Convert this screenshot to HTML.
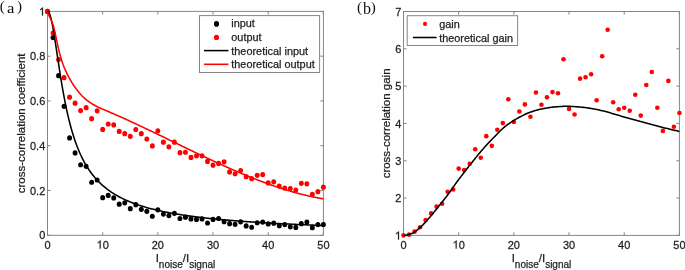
<!DOCTYPE html>
<html><head><meta charset="utf-8"><style>
html,body{margin:0;padding:0;background:#fff;width:685px;height:270px;overflow:hidden}
svg{display:block;will-change:transform}
text{font-family:"Liberation Sans",sans-serif;fill:#1e1e1e;stroke:#1e1e1e;stroke-width:0.25px}
.t{font-size:11px}
.one{fill:#1e1e1e;stroke:#1e1e1e;stroke-width:46.5px}
.l{font-size:11.5px}
.s{font-size:10px}
.g{font-size:10.88px}
.p{font-family:"Liberation Serif",serif;font-size:15.2px;fill:#111;stroke:none}
.pa2{font-family:"Liberation Serif",serif;font-size:14.5px;fill:#111;stroke:none}
.pb{font-family:"Liberation Serif",serif;font-size:16px;fill:#111;stroke:none}
</style></head><body>
<svg width="685" height="270" viewBox="0 0 685 270">
<rect x="47.5" y="11.4" width="275.90" height="223.90" fill="none" stroke="#858585" stroke-width="1"/>
<line x1="47.50" y1="235.3" x2="47.50" y2="232.20000000000002" stroke="#858585"/>
<line x1="47.50" y1="11.4" x2="47.50" y2="14.5" stroke="#858585"/>
<g transform="translate(47.50,248.60) scale(1,1.07)"><text x="-3.059" y="0" class="t">0</text></g>
<line x1="102.68" y1="235.3" x2="102.68" y2="232.20000000000002" stroke="#858585"/>
<line x1="102.68" y1="11.4" x2="102.68" y2="14.5" stroke="#858585"/>
<g transform="translate(102.68,248.60) scale(1,1.07)"><path transform="translate(-6.118,0) scale(0.005371,-0.005371)" d="M763 0H583V1120C540 1080 483 1040 413 1000C343 960 280 932 224 912V1080C325 1126 413 1182 488 1248C563 1314 616 1350 647 1409H763Z" class="one"/><text x="0.000" y="0" class="t">0</text></g>
<line x1="157.86" y1="235.3" x2="157.86" y2="232.20000000000002" stroke="#858585"/>
<line x1="157.86" y1="11.4" x2="157.86" y2="14.5" stroke="#858585"/>
<g transform="translate(157.86,248.60) scale(1,1.07)"><text x="-6.118" y="0" class="t">20</text></g>
<line x1="213.04" y1="235.3" x2="213.04" y2="232.20000000000002" stroke="#858585"/>
<line x1="213.04" y1="11.4" x2="213.04" y2="14.5" stroke="#858585"/>
<g transform="translate(213.04,248.60) scale(1,1.07)"><text x="-6.118" y="0" class="t">30</text></g>
<line x1="268.22" y1="235.3" x2="268.22" y2="232.20000000000002" stroke="#858585"/>
<line x1="268.22" y1="11.4" x2="268.22" y2="14.5" stroke="#858585"/>
<g transform="translate(268.22,248.60) scale(1,1.07)"><text x="-6.118" y="0" class="t">40</text></g>
<line x1="323.40" y1="235.3" x2="323.40" y2="232.20000000000002" stroke="#858585"/>
<line x1="323.40" y1="11.4" x2="323.40" y2="14.5" stroke="#858585"/>
<g transform="translate(323.40,248.60) scale(1,1.07)"><text x="-6.118" y="0" class="t">50</text></g>
<line x1="47.5" y1="235.30" x2="50.6" y2="235.30" stroke="#858585"/>
<line x1="323.4" y1="235.30" x2="320.29999999999995" y2="235.30" stroke="#858585"/>
<g transform="translate(45.25,239.40) scale(1,1.07)"><text x="-6.118" y="0" class="t">0</text></g>
<line x1="47.5" y1="190.52" x2="50.6" y2="190.52" stroke="#858585"/>
<line x1="323.4" y1="190.52" x2="320.29999999999995" y2="190.52" stroke="#858585"/>
<g transform="translate(45.25,194.62) scale(1,1.07)"><text x="-15.292" y="0" class="t">0.2</text></g>
<line x1="47.5" y1="145.74" x2="50.6" y2="145.74" stroke="#858585"/>
<line x1="323.4" y1="145.74" x2="320.29999999999995" y2="145.74" stroke="#858585"/>
<g transform="translate(45.25,149.84) scale(1,1.07)"><text x="-15.292" y="0" class="t">0.4</text></g>
<line x1="47.5" y1="100.96" x2="50.6" y2="100.96" stroke="#858585"/>
<line x1="323.4" y1="100.96" x2="320.29999999999995" y2="100.96" stroke="#858585"/>
<g transform="translate(45.25,105.06) scale(1,1.07)"><text x="-15.292" y="0" class="t">0.6</text></g>
<line x1="47.5" y1="56.18" x2="50.6" y2="56.18" stroke="#858585"/>
<line x1="323.4" y1="56.18" x2="320.29999999999995" y2="56.18" stroke="#858585"/>
<g transform="translate(45.25,60.28) scale(1,1.07)"><text x="-15.292" y="0" class="t">0.8</text></g>
<line x1="47.5" y1="11.40" x2="50.6" y2="11.40" stroke="#858585"/>
<line x1="323.4" y1="11.40" x2="320.29999999999995" y2="11.40" stroke="#858585"/>
<g transform="translate(45.25,15.50) scale(1,1.07)"><path transform="translate(-6.368,0) scale(0.005371,-0.005371)" d="M763 0H583V1120C540 1080 483 1040 413 1000C343 960 280 932 224 912V1080C325 1126 413 1182 488 1248C563 1314 616 1350 647 1409H763Z" class="one"/></g>
<ellipse cx="47.50" cy="11.40" rx="2.45" ry="2.6" fill="#000"/>
<ellipse cx="53.02" cy="37.60" rx="2.45" ry="2.6" fill="#000"/>
<ellipse cx="58.54" cy="75.66" rx="2.45" ry="2.6" fill="#000"/>
<ellipse cx="64.05" cy="106.33" rx="2.45" ry="2.6" fill="#000"/>
<ellipse cx="69.57" cy="137.90" rx="2.45" ry="2.6" fill="#000"/>
<ellipse cx="75.09" cy="152.90" rx="2.45" ry="2.6" fill="#000"/>
<ellipse cx="80.61" cy="164.77" rx="2.45" ry="2.6" fill="#000"/>
<ellipse cx="86.13" cy="166.34" rx="2.45" ry="2.6" fill="#000"/>
<ellipse cx="91.64" cy="182.24" rx="2.45" ry="2.6" fill="#000"/>
<ellipse cx="97.16" cy="180.00" rx="2.45" ry="2.6" fill="#000"/>
<ellipse cx="102.68" cy="197.68" rx="2.45" ry="2.6" fill="#000"/>
<ellipse cx="108.20" cy="195.45" rx="2.45" ry="2.6" fill="#000"/>
<ellipse cx="113.72" cy="197.91" rx="2.45" ry="2.6" fill="#000"/>
<ellipse cx="119.23" cy="204.18" rx="2.45" ry="2.6" fill="#000"/>
<ellipse cx="124.75" cy="202.83" rx="2.45" ry="2.6" fill="#000"/>
<ellipse cx="130.27" cy="208.66" rx="2.45" ry="2.6" fill="#000"/>
<ellipse cx="135.79" cy="204.63" rx="2.45" ry="2.6" fill="#000"/>
<ellipse cx="141.31" cy="209.33" rx="2.45" ry="2.6" fill="#000"/>
<ellipse cx="146.82" cy="211.34" rx="2.45" ry="2.6" fill="#000"/>
<ellipse cx="152.34" cy="216.27" rx="2.45" ry="2.6" fill="#000"/>
<ellipse cx="157.86" cy="209.78" rx="2.45" ry="2.6" fill="#000"/>
<ellipse cx="163.38" cy="214.03" rx="2.45" ry="2.6" fill="#000"/>
<ellipse cx="168.90" cy="215.60" rx="2.45" ry="2.6" fill="#000"/>
<ellipse cx="174.41" cy="213.36" rx="2.45" ry="2.6" fill="#000"/>
<ellipse cx="179.93" cy="218.51" rx="2.45" ry="2.6" fill="#000"/>
<ellipse cx="185.45" cy="217.16" rx="2.45" ry="2.6" fill="#000"/>
<ellipse cx="190.97" cy="218.96" rx="2.45" ry="2.6" fill="#000"/>
<ellipse cx="196.49" cy="219.40" rx="2.45" ry="2.6" fill="#000"/>
<ellipse cx="202.00" cy="218.96" rx="2.45" ry="2.6" fill="#000"/>
<ellipse cx="207.52" cy="222.99" rx="2.45" ry="2.6" fill="#000"/>
<ellipse cx="213.04" cy="219.40" rx="2.45" ry="2.6" fill="#000"/>
<ellipse cx="218.56" cy="218.51" rx="2.45" ry="2.6" fill="#000"/>
<ellipse cx="224.08" cy="221.64" rx="2.45" ry="2.6" fill="#000"/>
<ellipse cx="229.59" cy="223.66" rx="2.45" ry="2.6" fill="#000"/>
<ellipse cx="235.11" cy="224.33" rx="2.45" ry="2.6" fill="#000"/>
<ellipse cx="240.63" cy="221.87" rx="2.45" ry="2.6" fill="#000"/>
<ellipse cx="246.15" cy="225.90" rx="2.45" ry="2.6" fill="#000"/>
<ellipse cx="251.67" cy="227.24" rx="2.45" ry="2.6" fill="#000"/>
<ellipse cx="257.18" cy="222.76" rx="2.45" ry="2.6" fill="#000"/>
<ellipse cx="262.70" cy="222.09" rx="2.45" ry="2.6" fill="#000"/>
<ellipse cx="268.22" cy="223.88" rx="2.45" ry="2.6" fill="#000"/>
<ellipse cx="273.74" cy="223.21" rx="2.45" ry="2.6" fill="#000"/>
<ellipse cx="279.26" cy="225.67" rx="2.45" ry="2.6" fill="#000"/>
<ellipse cx="284.77" cy="224.55" rx="2.45" ry="2.6" fill="#000"/>
<ellipse cx="290.29" cy="226.79" rx="2.45" ry="2.6" fill="#000"/>
<ellipse cx="295.81" cy="227.46" rx="2.45" ry="2.6" fill="#000"/>
<ellipse cx="301.33" cy="223.66" rx="2.45" ry="2.6" fill="#000"/>
<ellipse cx="306.85" cy="222.09" rx="2.45" ry="2.6" fill="#000"/>
<ellipse cx="312.36" cy="227.69" rx="2.45" ry="2.6" fill="#000"/>
<ellipse cx="317.88" cy="224.55" rx="2.45" ry="2.6" fill="#000"/>
<ellipse cx="323.40" cy="224.55" rx="2.45" ry="2.6" fill="#000"/>
<ellipse cx="47.50" cy="11.40" rx="2.45" ry="2.6" fill="#ff0000"/>
<ellipse cx="53.02" cy="33.12" rx="2.45" ry="2.6" fill="#ff0000"/>
<ellipse cx="58.54" cy="59.54" rx="2.45" ry="2.6" fill="#ff0000"/>
<ellipse cx="64.05" cy="77.67" rx="2.45" ry="2.6" fill="#ff0000"/>
<ellipse cx="69.57" cy="97.15" rx="2.45" ry="2.6" fill="#ff0000"/>
<ellipse cx="75.09" cy="103.20" rx="2.45" ry="2.6" fill="#ff0000"/>
<ellipse cx="80.61" cy="110.59" rx="2.45" ry="2.6" fill="#ff0000"/>
<ellipse cx="86.13" cy="107.68" rx="2.45" ry="2.6" fill="#ff0000"/>
<ellipse cx="91.64" cy="118.65" rx="2.45" ry="2.6" fill="#ff0000"/>
<ellipse cx="97.16" cy="110.81" rx="2.45" ry="2.6" fill="#ff0000"/>
<ellipse cx="102.68" cy="129.40" rx="2.45" ry="2.6" fill="#ff0000"/>
<ellipse cx="108.20" cy="124.02" rx="2.45" ry="2.6" fill="#ff0000"/>
<ellipse cx="113.72" cy="124.92" rx="2.45" ry="2.6" fill="#ff0000"/>
<ellipse cx="119.23" cy="131.41" rx="2.45" ry="2.6" fill="#ff0000"/>
<ellipse cx="124.75" cy="133.65" rx="2.45" ry="2.6" fill="#ff0000"/>
<ellipse cx="130.27" cy="136.34" rx="2.45" ry="2.6" fill="#ff0000"/>
<ellipse cx="135.79" cy="129.62" rx="2.45" ry="2.6" fill="#ff0000"/>
<ellipse cx="141.31" cy="133.65" rx="2.45" ry="2.6" fill="#ff0000"/>
<ellipse cx="146.82" cy="139.02" rx="2.45" ry="2.6" fill="#ff0000"/>
<ellipse cx="152.34" cy="145.96" rx="2.45" ry="2.6" fill="#ff0000"/>
<ellipse cx="157.86" cy="130.74" rx="2.45" ry="2.6" fill="#ff0000"/>
<ellipse cx="163.38" cy="142.16" rx="2.45" ry="2.6" fill="#ff0000"/>
<ellipse cx="168.90" cy="146.86" rx="2.45" ry="2.6" fill="#ff0000"/>
<ellipse cx="174.41" cy="142.16" rx="2.45" ry="2.6" fill="#ff0000"/>
<ellipse cx="179.93" cy="152.68" rx="2.45" ry="2.6" fill="#ff0000"/>
<ellipse cx="185.45" cy="152.23" rx="2.45" ry="2.6" fill="#ff0000"/>
<ellipse cx="190.97" cy="157.38" rx="2.45" ry="2.6" fill="#ff0000"/>
<ellipse cx="196.49" cy="155.82" rx="2.45" ry="2.6" fill="#ff0000"/>
<ellipse cx="202.00" cy="155.82" rx="2.45" ry="2.6" fill="#ff0000"/>
<ellipse cx="207.52" cy="161.41" rx="2.45" ry="2.6" fill="#ff0000"/>
<ellipse cx="213.04" cy="165.22" rx="2.45" ry="2.6" fill="#ff0000"/>
<ellipse cx="218.56" cy="163.43" rx="2.45" ry="2.6" fill="#ff0000"/>
<ellipse cx="224.08" cy="161.86" rx="2.45" ry="2.6" fill="#ff0000"/>
<ellipse cx="229.59" cy="171.94" rx="2.45" ry="2.6" fill="#ff0000"/>
<ellipse cx="235.11" cy="173.73" rx="2.45" ry="2.6" fill="#ff0000"/>
<ellipse cx="240.63" cy="170.59" rx="2.45" ry="2.6" fill="#ff0000"/>
<ellipse cx="246.15" cy="176.64" rx="2.45" ry="2.6" fill="#ff0000"/>
<ellipse cx="251.67" cy="178.65" rx="2.45" ry="2.6" fill="#ff0000"/>
<ellipse cx="257.18" cy="175.29" rx="2.45" ry="2.6" fill="#ff0000"/>
<ellipse cx="262.70" cy="174.62" rx="2.45" ry="2.6" fill="#ff0000"/>
<ellipse cx="268.22" cy="182.91" rx="2.45" ry="2.6" fill="#ff0000"/>
<ellipse cx="273.74" cy="181.79" rx="2.45" ry="2.6" fill="#ff0000"/>
<ellipse cx="279.26" cy="186.04" rx="2.45" ry="2.6" fill="#ff0000"/>
<ellipse cx="284.77" cy="188.06" rx="2.45" ry="2.6" fill="#ff0000"/>
<ellipse cx="290.29" cy="188.50" rx="2.45" ry="2.6" fill="#ff0000"/>
<ellipse cx="295.81" cy="190.07" rx="2.45" ry="2.6" fill="#ff0000"/>
<ellipse cx="301.33" cy="183.36" rx="2.45" ry="2.6" fill="#ff0000"/>
<ellipse cx="306.85" cy="183.80" rx="2.45" ry="2.6" fill="#ff0000"/>
<ellipse cx="312.36" cy="194.33" rx="2.45" ry="2.6" fill="#ff0000"/>
<ellipse cx="317.88" cy="191.64" rx="2.45" ry="2.6" fill="#ff0000"/>
<ellipse cx="323.40" cy="187.16" rx="2.45" ry="2.6" fill="#ff0000"/>
<polyline points="47.50,11.40 48.42,11.87 49.35,13.33 50.27,15.79 51.19,19.16 52.11,23.35 53.04,28.21 53.96,33.59 54.88,39.37 55.80,45.39 56.73,51.55 57.65,57.73 58.57,63.87 59.50,69.90 60.42,75.78 61.34,81.46 62.26,86.93 63.19,92.17 64.11,97.18 65.03,101.96 65.95,106.51 66.88,110.83 67.80,114.94 68.72,118.84 69.65,122.54 70.57,126.06 71.49,129.39 72.41,132.56 73.34,135.57 74.26,138.44 75.18,141.16 76.11,143.75 77.03,146.22 77.95,148.57 78.87,150.81 79.80,152.95 80.72,154.99 81.64,156.95 82.56,158.81 83.49,160.60 84.41,162.31 85.33,163.95 86.26,165.52 87.18,167.03 88.10,168.48 89.02,169.87 89.95,171.21 90.87,172.50 91.79,173.74 92.71,174.94 93.64,176.09 94.56,177.20 95.48,178.27 96.41,179.30 97.33,180.30 98.25,181.27 99.17,182.20 100.10,183.11 101.02,183.98 101.94,184.83 102.86,185.65 103.79,186.44 104.71,187.21 105.63,187.96 106.56,188.69 107.48,189.39 108.40,190.08 109.32,190.74 110.25,191.39 111.17,192.02 112.09,192.63 113.01,193.22 113.94,193.80 114.86,194.36 115.78,194.91 116.71,195.45 117.63,195.97 118.55,196.48 119.47,196.97 120.40,197.45 121.32,197.93 122.24,198.39 123.16,198.84 124.09,199.28 125.01,199.70 125.93,200.12 126.86,200.53 127.78,200.93 128.70,201.32 129.62,201.71 130.55,202.08 131.47,202.45 132.39,202.80 133.32,203.16 134.24,203.50 135.16,203.84 136.08,204.17 137.01,204.49 137.93,204.80 138.85,205.11 139.77,205.42 140.70,205.72 141.62,206.01 142.54,206.30 143.47,206.58 144.39,206.85 145.31,207.12 146.23,207.39 147.16,207.65 148.08,207.91 149.00,208.16 149.92,208.41 150.85,208.65 151.77,208.89 152.69,209.12 153.62,209.35 154.54,209.58 155.46,209.80 156.38,210.02 157.31,210.23 158.23,210.45 159.15,210.65 160.07,210.86 161.00,211.06 161.92,211.26 162.84,211.45 163.77,211.64 164.69,211.83 165.61,212.02 166.53,212.20 167.46,212.38 168.38,212.56 169.30,212.73 170.22,212.91 171.15,213.08 172.07,213.24 172.99,213.41 173.92,213.57 174.84,213.73 175.76,213.89 176.68,214.04 177.61,214.20 178.53,214.35 179.45,214.50 180.37,214.64 181.30,214.79 182.22,214.93 183.14,215.07 184.07,215.21 184.99,215.35 185.91,215.48 186.83,215.62 187.76,215.75 188.68,215.88 189.60,216.01 190.53,216.13 191.45,216.26 192.37,216.38 193.29,216.50 194.22,216.62 195.14,216.74 196.06,216.86 196.98,216.98 197.91,217.09 198.83,217.20 199.75,217.32 200.68,217.43 201.60,217.53 202.52,217.64 203.44,217.75 204.37,217.85 205.29,217.96 206.21,218.06 207.13,218.16 208.06,218.26 208.98,218.36 209.90,218.46 210.83,218.56 211.75,218.65 212.67,218.75 213.59,218.84 214.52,218.93 215.44,219.03 216.36,219.12 217.28,219.21 218.21,219.30 219.13,219.38 220.05,219.47 220.98,219.56 221.90,219.64 222.82,219.72 223.74,219.81 224.67,219.89 225.59,219.97 226.51,220.05 227.43,220.13 228.36,220.21 229.28,220.29 230.20,220.37 231.13,220.44 232.05,220.52 232.97,220.59 233.89,220.67 234.82,220.74 235.74,220.81 236.66,220.89 237.58,220.96 238.51,221.03 239.43,221.10 240.35,221.17 241.28,221.24 242.20,221.31 243.12,221.37 244.04,221.44 244.97,221.51 245.89,221.57 246.81,221.64 247.74,221.70 248.66,221.76 249.58,221.83 250.50,221.89 251.43,221.95 252.35,222.01 253.27,222.07 254.19,222.13 255.12,222.19 256.04,222.25 256.96,222.31 257.89,222.37 258.81,222.43 259.73,222.49 260.65,222.54 261.58,222.60 262.50,222.65 263.42,222.71 264.34,222.76 265.27,222.82 266.19,222.87 267.11,222.93 268.04,222.98 268.96,223.03 269.88,223.08 270.80,223.13 271.73,223.19 272.65,223.24 273.57,223.29 274.49,223.34 275.42,223.39 276.34,223.43 277.26,223.48 278.19,223.53 279.11,223.58 280.03,223.63 280.95,223.67 281.88,223.72 282.80,223.77 283.72,223.81 284.64,223.86 285.57,223.90 286.49,223.95 287.41,223.99 288.34,224.04 289.26,224.08 290.18,224.13 291.10,224.17 292.03,224.21 292.95,224.26 293.87,224.30 294.79,224.34 295.72,224.38 296.64,224.42 297.56,224.46 298.49,224.50 299.41,224.54 300.33,224.58 301.25,224.62 302.18,224.66 303.10,224.70 304.02,224.74 304.95,224.78 305.87,224.82 306.79,224.86 307.71,224.90 308.64,224.93 309.56,224.97 310.48,225.01 311.40,225.04 312.33,225.08 313.25,225.12 314.17,225.15 315.10,225.19 316.02,225.22 316.94,225.26 317.86,225.30 318.79,225.33 319.71,225.36 320.63,225.40 321.55,225.43 322.48,225.47 323.40,225.50" fill="none" stroke="#000" stroke-width="1.55"/>
<polyline points="47.50,11.64 48.42,14.27 49.35,16.40 50.27,18.28 51.19,20.15 52.11,22.23 53.04,24.76 53.96,27.98 54.88,31.85 55.80,36.15 56.73,40.61 57.65,45.01 58.57,49.10 59.50,52.84 60.42,56.25 61.34,59.36 62.26,62.20 63.19,64.79 64.11,67.18 65.03,69.39 65.95,71.45 66.88,73.38 67.80,75.22 68.72,76.99 69.65,78.70 70.57,80.33 71.49,81.91 72.41,83.41 73.34,84.86 74.26,86.25 75.18,87.58 76.11,88.86 77.03,90.08 77.95,91.25 78.87,92.37 79.80,93.44 80.72,94.46 81.64,95.44 82.56,96.37 83.49,97.26 84.41,98.11 85.33,98.92 86.26,99.70 87.18,100.44 88.10,101.14 89.02,101.81 89.95,102.46 90.87,103.07 91.79,103.66 92.71,104.22 93.64,104.76 94.56,105.28 95.48,105.78 96.41,106.25 97.33,106.72 98.25,107.16 99.17,107.60 100.10,108.02 101.02,108.43 101.94,108.84 102.86,109.24 103.79,109.63 104.71,110.02 105.63,110.41 106.56,110.80 107.48,111.19 108.40,111.58 109.32,111.98 110.25,112.37 111.17,112.77 112.09,113.17 113.01,113.57 113.94,113.97 114.86,114.38 115.78,114.78 116.71,115.19 117.63,115.60 118.55,116.00 119.47,116.41 120.40,116.83 121.32,117.24 122.24,117.65 123.16,118.07 124.09,118.48 125.01,118.90 125.93,119.32 126.86,119.74 127.78,120.16 128.70,120.58 129.62,121.00 130.55,121.43 131.47,121.85 132.39,122.28 133.32,122.71 134.24,123.14 135.16,123.56 136.08,123.99 137.01,124.42 137.93,124.86 138.85,125.29 139.77,125.72 140.70,126.16 141.62,126.59 142.54,127.03 143.47,127.46 144.39,127.90 145.31,128.34 146.23,128.78 147.16,129.22 148.08,129.65 149.00,130.09 149.92,130.54 150.85,130.98 151.77,131.42 152.69,131.86 153.62,132.30 154.54,132.75 155.46,133.19 156.38,133.64 157.31,134.08 158.23,134.53 159.15,134.97 160.07,135.42 161.00,135.86 161.92,136.31 162.84,136.76 163.77,137.20 164.69,137.65 165.61,138.10 166.53,138.54 167.46,138.99 168.38,139.44 169.30,139.89 170.22,140.34 171.15,140.78 172.07,141.23 172.99,141.68 173.92,142.13 174.84,142.58 175.76,143.03 176.68,143.47 177.61,143.92 178.53,144.37 179.45,144.82 180.37,145.26 181.30,145.71 182.22,146.16 183.14,146.61 184.07,147.05 184.99,147.50 185.91,147.95 186.83,148.39 187.76,148.84 188.68,149.28 189.60,149.73 190.53,150.17 191.45,150.62 192.37,151.06 193.29,151.50 194.22,151.95 195.14,152.39 196.06,152.83 196.98,153.27 197.91,153.71 198.83,154.15 199.75,154.59 200.68,155.03 201.60,155.47 202.52,155.90 203.44,156.34 204.37,156.78 205.29,157.21 206.21,157.65 207.13,158.08 208.06,158.51 208.98,158.94 209.90,159.38 210.83,159.81 211.75,160.24 212.67,160.66 213.59,161.09 214.52,161.52 215.44,161.94 216.36,162.37 217.28,162.79 218.21,163.21 219.13,163.64 220.05,164.06 220.98,164.48 221.90,164.89 222.82,165.31 223.74,165.73 224.67,166.14 225.59,166.55 226.51,166.97 227.43,167.38 228.36,167.79 229.28,168.19 230.20,168.60 231.13,169.01 232.05,169.41 232.97,169.81 233.89,170.21 234.82,170.61 235.74,171.01 236.66,171.41 237.58,171.80 238.51,172.20 239.43,172.59 240.35,172.98 241.28,173.37 242.20,173.76 243.12,174.14 244.04,174.53 244.97,174.91 245.89,175.29 246.81,175.67 247.74,176.04 248.66,176.42 249.58,176.79 250.50,177.16 251.43,177.53 252.35,177.90 253.27,178.27 254.19,178.63 255.12,178.99 256.04,179.35 256.96,179.71 257.89,180.07 258.81,180.42 259.73,180.78 260.65,181.13 261.58,181.47 262.50,181.82 263.42,182.16 264.34,182.50 265.27,182.84 266.19,183.18 267.11,183.52 268.04,183.85 268.96,184.18 269.88,184.51 270.80,184.83 271.73,185.16 272.65,185.48 273.57,185.80 274.49,186.11 275.42,186.43 276.34,186.74 277.26,187.05 278.19,187.35 279.11,187.66 280.03,187.96 280.95,188.26 281.88,188.56 282.80,188.85 283.72,189.14 284.64,189.43 285.57,189.71 286.49,190.00 287.41,190.28 288.34,190.56 289.26,190.83 290.18,191.10 291.10,191.37 292.03,191.64 292.95,191.90 293.87,192.16 294.79,192.42 295.72,192.68 296.64,192.93 297.56,193.18 298.49,193.42 299.41,193.67 300.33,193.91 301.25,194.15 302.18,194.38 303.10,194.61 304.02,194.84 304.95,195.06 305.87,195.28 306.79,195.50 307.71,195.72 308.64,195.93 309.56,196.14 310.48,196.34 311.40,196.55 312.33,196.75 313.25,196.94 314.17,197.13 315.10,197.32 316.02,197.51 316.94,197.69 317.86,197.87 318.79,198.04 319.71,198.22 320.63,198.38 321.55,198.55 322.48,198.71 323.40,198.87" fill="none" stroke="#ff0000" stroke-width="1.55"/>
<rect x="403.5" y="11.5" width="275.90" height="223.90" fill="none" stroke="#858585" stroke-width="1"/>
<line x1="403.50" y1="235.4" x2="403.50" y2="232.3" stroke="#858585"/>
<line x1="403.50" y1="11.5" x2="403.50" y2="14.6" stroke="#858585"/>
<g transform="translate(403.50,248.60) scale(1,1.07)"><text x="-3.059" y="0" class="t">0</text></g>
<line x1="458.68" y1="235.4" x2="458.68" y2="232.3" stroke="#858585"/>
<line x1="458.68" y1="11.5" x2="458.68" y2="14.6" stroke="#858585"/>
<g transform="translate(458.68,248.60) scale(1,1.07)"><path transform="translate(-6.118,0) scale(0.005371,-0.005371)" d="M763 0H583V1120C540 1080 483 1040 413 1000C343 960 280 932 224 912V1080C325 1126 413 1182 488 1248C563 1314 616 1350 647 1409H763Z" class="one"/><text x="0.000" y="0" class="t">0</text></g>
<line x1="513.86" y1="235.4" x2="513.86" y2="232.3" stroke="#858585"/>
<line x1="513.86" y1="11.5" x2="513.86" y2="14.6" stroke="#858585"/>
<g transform="translate(513.86,248.60) scale(1,1.07)"><text x="-6.118" y="0" class="t">20</text></g>
<line x1="569.04" y1="235.4" x2="569.04" y2="232.3" stroke="#858585"/>
<line x1="569.04" y1="11.5" x2="569.04" y2="14.6" stroke="#858585"/>
<g transform="translate(569.04,248.60) scale(1,1.07)"><text x="-6.118" y="0" class="t">30</text></g>
<line x1="624.22" y1="235.4" x2="624.22" y2="232.3" stroke="#858585"/>
<line x1="624.22" y1="11.5" x2="624.22" y2="14.6" stroke="#858585"/>
<g transform="translate(624.22,248.60) scale(1,1.07)"><text x="-6.118" y="0" class="t">40</text></g>
<line x1="679.40" y1="235.4" x2="679.40" y2="232.3" stroke="#858585"/>
<line x1="679.40" y1="11.5" x2="679.40" y2="14.6" stroke="#858585"/>
<g transform="translate(679.40,248.60) scale(1,1.07)"><text x="-6.118" y="0" class="t">50</text></g>
<line x1="403.5" y1="235.40" x2="406.6" y2="235.40" stroke="#858585"/>
<line x1="679.4" y1="235.40" x2="676.3" y2="235.40" stroke="#858585"/>
<g transform="translate(401.25,239.50) scale(1,1.07)"><path transform="translate(-6.368,0) scale(0.005371,-0.005371)" d="M763 0H583V1120C540 1080 483 1040 413 1000C343 960 280 932 224 912V1080C325 1126 413 1182 488 1248C563 1314 616 1350 647 1409H763Z" class="one"/></g>
<line x1="403.5" y1="198.08" x2="406.6" y2="198.08" stroke="#858585"/>
<line x1="679.4" y1="198.08" x2="676.3" y2="198.08" stroke="#858585"/>
<g transform="translate(401.25,202.18) scale(1,1.07)"><text x="-6.118" y="0" class="t">2</text></g>
<line x1="403.5" y1="160.77" x2="406.6" y2="160.77" stroke="#858585"/>
<line x1="679.4" y1="160.77" x2="676.3" y2="160.77" stroke="#858585"/>
<g transform="translate(401.25,164.87) scale(1,1.07)"><text x="-6.118" y="0" class="t">3</text></g>
<line x1="403.5" y1="123.45" x2="406.6" y2="123.45" stroke="#858585"/>
<line x1="679.4" y1="123.45" x2="676.3" y2="123.45" stroke="#858585"/>
<g transform="translate(401.25,127.55) scale(1,1.07)"><text x="-6.118" y="0" class="t">4</text></g>
<line x1="403.5" y1="86.13" x2="406.6" y2="86.13" stroke="#858585"/>
<line x1="679.4" y1="86.13" x2="676.3" y2="86.13" stroke="#858585"/>
<g transform="translate(401.25,90.23) scale(1,1.07)"><text x="-6.118" y="0" class="t">5</text></g>
<line x1="403.5" y1="48.82" x2="406.6" y2="48.82" stroke="#858585"/>
<line x1="679.4" y1="48.82" x2="676.3" y2="48.82" stroke="#858585"/>
<g transform="translate(401.25,52.92) scale(1,1.07)"><text x="-6.118" y="0" class="t">6</text></g>
<line x1="403.5" y1="11.50" x2="406.6" y2="11.50" stroke="#858585"/>
<line x1="679.4" y1="11.50" x2="676.3" y2="11.50" stroke="#858585"/>
<g transform="translate(401.25,15.60) scale(1,1.07)"><text x="-6.118" y="0" class="t">7</text></g>
<ellipse cx="403.50" cy="235.40" rx="2.3" ry="2.3" fill="#ff0000"/>
<ellipse cx="409.02" cy="234.65" rx="2.3" ry="2.3" fill="#ff0000"/>
<ellipse cx="414.54" cy="231.67" rx="2.3" ry="2.3" fill="#ff0000"/>
<ellipse cx="420.05" cy="227.19" rx="2.3" ry="2.3" fill="#ff0000"/>
<ellipse cx="425.57" cy="220.10" rx="2.3" ry="2.3" fill="#ff0000"/>
<ellipse cx="431.09" cy="213.38" rx="2.3" ry="2.3" fill="#ff0000"/>
<ellipse cx="436.61" cy="206.67" rx="2.3" ry="2.3" fill="#ff0000"/>
<ellipse cx="442.13" cy="203.68" rx="2.3" ry="2.3" fill="#ff0000"/>
<ellipse cx="447.64" cy="191.74" rx="2.3" ry="2.3" fill="#ff0000"/>
<ellipse cx="453.16" cy="189.50" rx="2.3" ry="2.3" fill="#ff0000"/>
<ellipse cx="458.68" cy="168.60" rx="2.3" ry="2.3" fill="#ff0000"/>
<ellipse cx="464.20" cy="170.10" rx="2.3" ry="2.3" fill="#ff0000"/>
<ellipse cx="469.72" cy="163.75" rx="2.3" ry="2.3" fill="#ff0000"/>
<ellipse cx="475.23" cy="149.20" rx="2.3" ry="2.3" fill="#ff0000"/>
<ellipse cx="480.75" cy="157.78" rx="2.3" ry="2.3" fill="#ff0000"/>
<ellipse cx="486.27" cy="136.14" rx="2.3" ry="2.3" fill="#ff0000"/>
<ellipse cx="491.79" cy="145.84" rx="2.3" ry="2.3" fill="#ff0000"/>
<ellipse cx="497.31" cy="129.79" rx="2.3" ry="2.3" fill="#ff0000"/>
<ellipse cx="502.82" cy="123.08" rx="2.3" ry="2.3" fill="#ff0000"/>
<ellipse cx="508.34" cy="99.19" rx="2.3" ry="2.3" fill="#ff0000"/>
<ellipse cx="513.86" cy="121.96" rx="2.3" ry="2.3" fill="#ff0000"/>
<ellipse cx="519.38" cy="111.51" rx="2.3" ry="2.3" fill="#ff0000"/>
<ellipse cx="524.90" cy="104.42" rx="2.3" ry="2.3" fill="#ff0000"/>
<ellipse cx="530.41" cy="116.73" rx="2.3" ry="2.3" fill="#ff0000"/>
<ellipse cx="535.93" cy="92.48" rx="2.3" ry="2.3" fill="#ff0000"/>
<ellipse cx="541.45" cy="104.79" rx="2.3" ry="2.3" fill="#ff0000"/>
<ellipse cx="546.97" cy="97.33" rx="2.3" ry="2.3" fill="#ff0000"/>
<ellipse cx="552.49" cy="92.10" rx="2.3" ry="2.3" fill="#ff0000"/>
<ellipse cx="558.00" cy="93.22" rx="2.3" ry="2.3" fill="#ff0000"/>
<ellipse cx="563.52" cy="59.27" rx="2.3" ry="2.3" fill="#ff0000"/>
<ellipse cx="569.04" cy="108.90" rx="2.3" ry="2.3" fill="#ff0000"/>
<ellipse cx="574.56" cy="114.49" rx="2.3" ry="2.3" fill="#ff0000"/>
<ellipse cx="580.08" cy="78.67" rx="2.3" ry="2.3" fill="#ff0000"/>
<ellipse cx="585.59" cy="77.18" rx="2.3" ry="2.3" fill="#ff0000"/>
<ellipse cx="591.11" cy="74.19" rx="2.3" ry="2.3" fill="#ff0000"/>
<ellipse cx="596.63" cy="100.31" rx="2.3" ry="2.3" fill="#ff0000"/>
<ellipse cx="602.15" cy="56.28" rx="2.3" ry="2.3" fill="#ff0000"/>
<ellipse cx="607.67" cy="29.79" rx="2.3" ry="2.3" fill="#ff0000"/>
<ellipse cx="613.18" cy="102.18" rx="2.3" ry="2.3" fill="#ff0000"/>
<ellipse cx="618.70" cy="109.27" rx="2.3" ry="2.3" fill="#ff0000"/>
<ellipse cx="624.22" cy="107.78" rx="2.3" ry="2.3" fill="#ff0000"/>
<ellipse cx="629.74" cy="110.76" rx="2.3" ry="2.3" fill="#ff0000"/>
<ellipse cx="635.26" cy="94.72" rx="2.3" ry="2.3" fill="#ff0000"/>
<ellipse cx="640.77" cy="115.61" rx="2.3" ry="2.3" fill="#ff0000"/>
<ellipse cx="646.29" cy="85.01" rx="2.3" ry="2.3" fill="#ff0000"/>
<ellipse cx="651.81" cy="71.95" rx="2.3" ry="2.3" fill="#ff0000"/>
<ellipse cx="657.33" cy="107.78" rx="2.3" ry="2.3" fill="#ff0000"/>
<ellipse cx="662.85" cy="130.91" rx="2.3" ry="2.3" fill="#ff0000"/>
<ellipse cx="668.36" cy="80.91" rx="2.3" ry="2.3" fill="#ff0000"/>
<ellipse cx="673.88" cy="126.81" rx="2.3" ry="2.3" fill="#ff0000"/>
<ellipse cx="679.40" cy="113.00" rx="2.3" ry="2.3" fill="#ff0000"/>
<polyline points="403.50,235.40 404.42,235.37 405.35,235.27 406.27,235.11 407.19,234.91 408.11,234.67 409.04,234.39 409.96,234.10 410.88,233.79 411.80,233.46 412.73,233.07 413.65,232.57 414.57,231.98 415.50,231.32 416.42,230.60 417.34,229.83 418.26,229.03 419.19,228.21 420.11,227.38 421.03,226.55 421.95,225.72 422.88,224.84 423.80,223.90 424.72,222.93 425.65,221.93 426.57,220.90 427.49,219.84 428.41,218.78 429.34,217.71 430.26,216.64 431.18,215.57 432.11,214.48 433.03,213.38 433.95,212.25 434.87,211.11 435.80,209.96 436.72,208.80 437.64,207.63 438.56,206.46 439.49,205.30 440.41,204.13 441.33,202.97 442.26,201.82 443.18,200.67 444.10,199.52 445.02,198.36 445.95,197.19 446.87,196.01 447.79,194.81 448.71,193.59 449.64,192.34 450.56,191.05 451.48,189.69 452.41,188.30 453.33,186.93 454.25,185.62 455.17,184.34 456.10,183.07 457.02,181.80 457.94,180.55 458.86,179.31 459.79,178.08 460.71,176.85 461.63,175.64 462.56,174.43 463.48,173.23 464.40,172.03 465.32,170.85 466.25,169.66 467.17,168.48 468.09,167.31 469.01,166.14 469.94,164.97 470.86,163.81 471.78,162.65 472.71,161.49 473.63,160.33 474.55,159.17 475.47,158.02 476.40,156.87 477.32,155.73 478.24,154.60 479.16,153.48 480.09,152.38 481.01,151.30 481.93,150.23 482.86,149.18 483.78,148.14 484.70,147.10 485.62,146.08 486.55,145.07 487.47,144.07 488.39,143.08 489.32,142.10 490.24,141.13 491.16,140.16 492.08,139.21 493.01,138.26 493.93,137.32 494.85,136.39 495.77,135.45 496.70,134.50 497.62,133.56 498.54,132.63 499.47,131.70 500.39,130.79 501.31,129.90 502.23,129.03 503.16,128.18 504.08,127.37 505.00,126.59 505.92,125.85 506.85,125.15 507.77,124.46 508.69,123.80 509.62,123.15 510.54,122.52 511.46,121.91 512.38,121.32 513.31,120.74 514.23,120.17 515.15,119.62 516.07,119.08 517.00,118.56 517.92,118.05 518.84,117.54 519.77,117.05 520.69,116.56 521.61,116.07 522.53,115.60 523.46,115.14 524.38,114.69 525.30,114.25 526.22,113.83 527.15,113.43 528.07,113.04 528.99,112.68 529.92,112.33 530.84,112.01 531.76,111.69 532.68,111.39 533.61,111.09 534.53,110.80 535.45,110.53 536.37,110.26 537.30,110.01 538.22,109.76 539.14,109.53 540.07,109.31 540.99,109.11 541.91,108.91 542.83,108.73 543.76,108.55 544.68,108.38 545.60,108.21 546.53,108.05 547.45,107.89 548.37,107.75 549.29,107.61 550.22,107.48 551.14,107.35 552.06,107.24 552.98,107.14 553.91,107.05 554.83,106.97 555.75,106.89 556.68,106.81 557.60,106.73 558.52,106.65 559.44,106.58 560.37,106.51 561.29,106.45 562.21,106.40 563.13,106.36 564.06,106.32 564.98,106.30 565.90,106.29 566.83,106.29 567.75,106.30 568.67,106.32 569.59,106.35 570.52,106.38 571.44,106.43 572.36,106.47 573.28,106.53 574.21,106.59 575.13,106.65 576.05,106.72 576.98,106.79 577.90,106.86 578.82,106.93 579.74,107.00 580.67,107.08 581.59,107.16 582.51,107.26 583.43,107.36 584.36,107.47 585.28,107.59 586.20,107.72 587.13,107.85 588.05,107.99 588.97,108.13 589.89,108.28 590.82,108.44 591.74,108.59 592.66,108.76 593.58,108.92 594.51,109.08 595.43,109.25 596.35,109.42 597.28,109.60 598.20,109.79 599.12,109.99 600.04,110.20 600.97,110.41 601.89,110.63 602.81,110.85 603.74,111.09 604.66,111.33 605.58,111.57 606.50,111.82 607.43,112.07 608.35,112.33 609.27,112.59 610.19,112.85 611.12,113.12 612.04,113.39 612.96,113.66 613.89,113.94 614.81,114.21 615.73,114.49 616.65,114.76 617.58,115.04 618.50,115.32 619.42,115.59 620.34,115.87 621.27,116.14 622.19,116.41 623.11,116.68 624.04,116.95 624.96,117.21 625.88,117.47 626.80,117.73 627.73,117.98 628.65,118.23 629.57,118.48 630.49,118.72 631.42,118.97 632.34,119.22 633.26,119.47 634.19,119.72 635.11,119.97 636.03,120.22 636.95,120.47 637.88,120.72 638.80,120.97 639.72,121.22 640.64,121.48 641.57,121.73 642.49,121.98 643.41,122.24 644.34,122.49 645.26,122.74 646.18,122.99 647.10,123.25 648.03,123.50 648.95,123.75 649.87,124.00 650.79,124.25 651.72,124.50 652.64,124.75 653.56,125.00 654.49,125.25 655.41,125.49 656.33,125.74 657.25,125.99 658.18,126.23 659.10,126.47 660.02,126.72 660.95,126.96 661.87,127.20 662.79,127.43 663.71,127.67 664.64,127.90 665.56,128.14 666.48,128.37 667.40,128.60 668.33,128.83 669.25,129.06 670.17,129.28 671.10,129.50 672.02,129.72 672.94,129.94 673.86,130.16 674.79,130.37 675.71,130.58 676.63,130.79 677.55,131.00 678.48,131.21 679.40,131.40" fill="none" stroke="#000" stroke-width="1.55"/>
<rect x="199.5" y="15.6" width="120.1" height="56.9" fill="#fff" stroke="#858585" stroke-width="1"/>
<ellipse cx="216.5" cy="23.9" rx="2.55" ry="2.8" fill="#000"/>
<ellipse cx="216.5" cy="37.4" rx="2.55" ry="2.7" fill="#ff0000"/>
<line x1="204.1" y1="50.6" x2="228.4" y2="50.6" stroke="#000" stroke-width="1.55"/>
<line x1="204.1" y1="64.3" x2="228.4" y2="64.3" stroke="#ff0000" stroke-width="1.55"/>
<text x="231.3" y="27.20" class="g">input</text>
<text x="231.3" y="40.90" class="g">output</text>
<text x="231.3" y="54.60" class="g">theoretical input</text>
<text x="231.3" y="68.30" class="g">theoretical output</text>
<rect x="407.2" y="15.7" width="110.4" height="29.8" fill="#fff" stroke="#858585" stroke-width="1"/>
<circle cx="425.0" cy="23.9" r="2.05" fill="#ff0000"/>
<line x1="412.9" y1="37.5" x2="436.6" y2="37.5" stroke="#000" stroke-width="1.55"/>
<text x="439.2" y="28.0" class="g">gain</text>
<text x="439.2" y="41.6" class="g">theoretical gain</text>
<text transform="translate(24.6,123.4) rotate(-90)" text-anchor="middle" class="l">cross-correlation coefficient</text>
<text transform="translate(389.6,123.4) rotate(-90)" text-anchor="middle" class="l">cross-correlation gain</text>
<text x="185.45" y="261.8" text-anchor="middle" class="l">I<tspan class="s" dy="5.8">noise</tspan><tspan dy="-5.8">/I</tspan><tspan class="s" dy="5.8">signal</tspan></text>
<text x="541.45" y="261.8" text-anchor="middle" class="l">I<tspan class="s" dy="5.8">noise</tspan><tspan dy="-5.8">/I</tspan><tspan class="s" dy="5.8">signal</tspan></text>
<text x="-0.3" y="11.2" class="p">(</text><text transform="translate(7.0,13.0) scale(1.15,1)" class="pa2">a</text><text x="17.0" y="11.2" class="p">)</text>
<text x="356.9" y="11.5" class="p">(</text><text x="363.0" y="14.1" class="pb">b</text><text x="370.8" y="11.5" class="p">)</text>
</svg>
</body></html>
